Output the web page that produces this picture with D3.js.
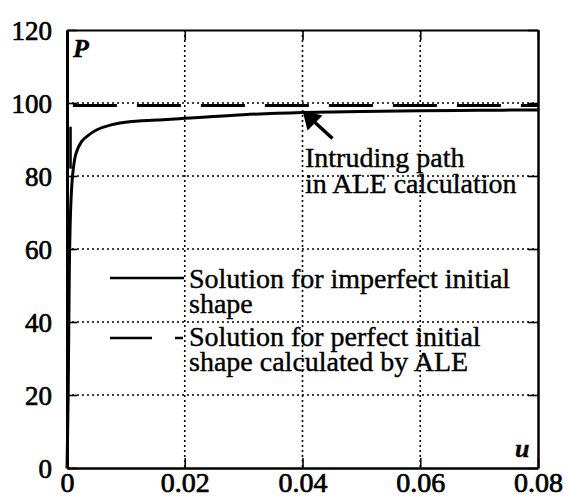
<!DOCTYPE html>
<html>
<head>
<meta charset="utf-8">
<script src="https://cdn.jsdelivr.net/npm/d3@7"></script>
<style>
  body { margin: 0; background: #fff; }
  svg { display: block; }
  .tick text { font-family: "Liberation Serif", serif; fill: #000; stroke: #000; stroke-width: 0.7px; }
  .lbl { font-family: "Liberation Serif", serif; font-size: 28px; fill: #000; stroke: #000; stroke-width: 0.4px; }
</style>
</head>
<body>
<div id="chart"></div>
<script>
// data //////////////////////////////
var xTicks = [0, 0.02, 0.04, 0.06, 0.08];
var xTickLabels = ["0", "0.02", "0.04", "0.06", "0.08"];
var yTicks = [0, 20, 40, 60, 80, 100, 120];

// solution for imperfect initial shape
var imperfectU = [0, 0.0002, 0.0004, 0.0006, 0.0008, 0.001, 0.0015, 0.0025, 0.0035, 0.005, 0.0075, 0.011, 0.017, 0.02, 0.023, 0.03, 0.04, 0.05, 0.06, 0.07, 0.08];
var imperfectP = [0, 20, 55, 70, 77, 81, 86, 89.5, 91, 92.6, 94, 94.9, 95.5, 95.8, 96.1, 96.8, 97.4, 97.7, 97.9, 98.0, 98.1];

// solution for perfect initial shape (ALE)
var perfectU = [0.001, 0.08];
var perfectP = [99.3, 99.3];

// short intruding segment near the axis
var intrudeU = [0.0006, 0.0006];
var intrudeP = [82, 93.5];

var legendItems = [
  {lines: ["Solution for imperfect initial", "shape"], dash: null},
  {lines: ["Solution for perfect initial", "shape calculated by ALE"], dash: "42,23,8"}
];

// setup ////////////////////////////
"use strict";
var W = 565, H = 497;
var mLeft = 67, mRight = 538, mTop = 30, mBottom = 468;

var svg = d3.select('#chart').append('svg')
    .attr('width', W).attr('height', H);

var x = d3.scaleLinear().domain([0, 0.08]).range([mLeft, mRight]);
var y = d3.scaleLinear().domain([0, 120]).range([mBottom, mTop]);

// grid (dotted)
svg.append('g').selectAll('line')
    .data(xTicks.slice(1, -1)).enter().append('line')
    .attr('x1', function(d) { return x(d); }).attr('x2', function(d) { return x(d); })
    .attr('y1', mTop).attr('y2', mBottom)
    .attr('stroke', '#000').attr('stroke-width', 1.6).attr('stroke-dasharray', '2,3');
svg.append('g').selectAll('line')
    .data(yTicks.slice(1, -1)).enter().append('line')
    .attr('y1', function(d) { return y(d); }).attr('y2', function(d) { return y(d); })
    .attr('x1', mLeft).attr('x2', mRight)
    .attr('stroke', '#000').attr('stroke-width', 1.6).attr('stroke-dasharray', '2,3');

// axes
var xAxis = d3.axisBottom(x).tickValues(xTicks)
    .tickFormat(function(d, i) { return xTickLabels[i]; })
    .tickSize(-10).tickSizeOuter(0).tickPadding(4);
var yAxis = d3.axisLeft(y).tickValues(yTicks)
    .tickSize(-10).tickSizeOuter(0).tickPadding(15);

var gx = svg.append('g').attr('transform', 'translate(0,' + mBottom + ')').call(xAxis);
var gy = svg.append('g').attr('transform', 'translate(' + mLeft + ',0)').call(yAxis);
var gt = svg.append('g').attr('transform', 'translate(0,' + mTop + ')')
    .call(d3.axisTop(x).tickValues(xTicks).tickSize(-10).tickSizeOuter(0).tickFormat(''));
var gr = svg.append('g').attr('transform', 'translate(' + mRight + ',0)')
    .call(d3.axisRight(y).tickValues(yTicks).tickSize(-10).tickSizeOuter(0).tickFormat(''));

gx.select('.domain').attr('stroke-width', 2.5);
gy.select('.domain').attr('stroke-width', 3);
gt.select('.domain').attr('stroke-width', 2);
gr.select('.domain').attr('stroke-width', 2.5);
svg.selectAll('.tick line').attr('stroke-width', 1.6);
gx.selectAll('.tick text').attr('font-family', null).attr('font-size', null).style('font-size', '28px');
gy.selectAll('.tick text').attr('font-family', null).attr('font-size', null)
    .style('font-size', '27px').attr('dy', '0.34em');

// series
var line = d3.line()
    .x(function(d) { return x(d[0]); })
    .y(function(d) { return y(d[1]); });

svg.append('path')
    .datum(imperfectU.map(function(u, i) { return [u, imperfectP[i]]; }))
    .attr('d', line.curve(d3.curveCatmullRom))
    .attr('fill', 'none').attr('stroke', '#000').attr('stroke-width', 3);

line.curve(d3.curveLinear);

svg.append('path')
    .datum(perfectU.map(function(u, i) { return [u, perfectP[i]]; }))
    .attr('d', line)
    .attr('fill', 'none').attr('stroke', '#000').attr('stroke-width', 3)
    .attr('stroke-dasharray', '44,20');

svg.append('path')
    .datum(intrudeU.map(function(u, i) { return [u, intrudeP[i]]; }))
    .attr('d', line)
    .attr('fill', 'none').attr('stroke', '#000').attr('stroke-width', 2.5);

// axis titles
svg.append('text').attr('class', 'lbl').attr('x', 73).attr('y', 57)
    .style('font-size', '26px')
    .style('font-style', 'italic').style('font-weight', 'bold').text('P');
svg.append('text').attr('class', 'lbl').attr('x', 515).attr('y', 457)
    .style('font-size', '26px')
    .style('font-style', 'italic').style('font-weight', 'bold').text('u');

// annotation with arrow
var tipX = x(0.04), tipY = y(97.4) - 2;
svg.append('line').attr('x1', tipX + 30).attr('y1', tipY + 28)
    .attr('x2', tipX + 6).attr('y2', tipY + 6)
    .attr('stroke', '#000').attr('stroke-width', 3.5);
svg.append('path')
    .attr('d', 'M' + tipX + ',' + tipY + 'l20,5l-15,15z')
    .attr('fill', '#000');
svg.append('text').attr('class', 'lbl').attr('x', 305).attr('y', 167).text('Intruding path');
svg.append('text').attr('class', 'lbl').attr('x', 305).attr('y', 193).text('in ALE calculation');

// legend
var legY = [278, 338];
var legBase = [[288, 313], [346, 371]];
legendItems.forEach(function(item, i) {
    svg.append('line')
        .attr('x1', 110).attr('x2', 184).attr('y1', legY[i]).attr('y2', legY[i])
        .attr('stroke', '#000').attr('stroke-width', 2.5)
        .attr('stroke-dasharray', item.dash);
    item.lines.forEach(function(t, j) {
        svg.append('text').attr('class', 'lbl')
            .attr('x', 189).attr('y', legBase[i][j]).text(t);
    });
});
</script>
</body>
</html>
